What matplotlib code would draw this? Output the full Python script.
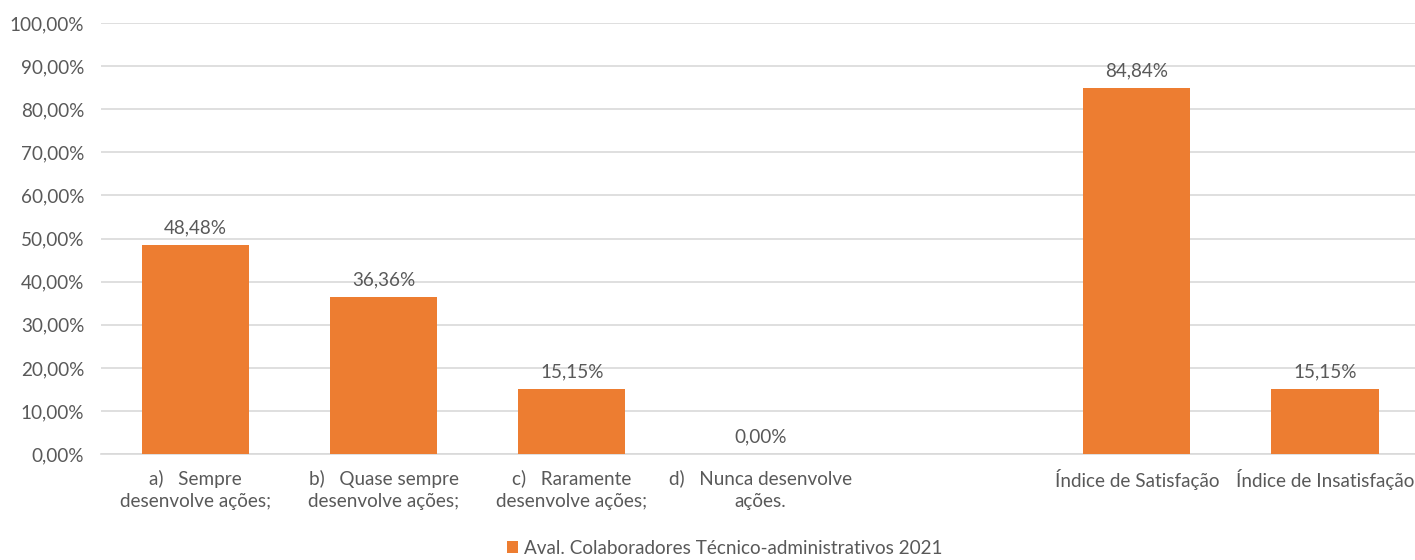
import matplotlib.pyplot as plt
import numpy as np
from matplotlib.ticker import FuncFormatter

plt.rcParams['font.family'] = ['Lato', 'DejaVu Sans']

categories = ['a)   Sempre\ndesenvolve ações;', 'b)   Quase sempre\ndesenvolve ações;',
              'c)   Raramente\ndesenvolve ações;', 'd)   Nunca desenvolve\nações.', '',
              'Índice de Satisfação', 'Índice de Insatisfação']
values = [48.48, 36.36, 15.15, 0.0, None, 84.84, 15.15]
series_name = 'Aval. Colaboradores Técnico-administrativos 2021'

orange = '#ED7D31'
grey = '#595959'
fs = 13.6

fig = plt.figure(figsize=(14.15, 5.6), dpi=100)
ax = fig.add_axes([0.0714, 0.189, 0.9316, 0.77])

x = np.arange(len(categories))
vals = [np.nan if v is None else v for v in values]
bars = ax.bar(x, vals, width=0.57, color=orange, label=series_name, zorder=3)

for xi, v in zip(x, values):
    if v is None:
        continue
    ax.text(xi, v + 2.0, f'{v:.2f}%'.replace('.', ','), ha='center', va='bottom',
            fontsize=fs, color=grey)

ax.set_xlim(-0.5, len(categories) - 0.5)
ax.set_ylim(0, 100)
ax.set_yticks(np.arange(0, 101, 10))
ax.yaxis.set_major_formatter(FuncFormatter(lambda v, p: f'{v:.2f}%'.replace('.', ',')))
ax.set_xticks(x)
ax.set_xticklabels(categories, fontsize=fs, color=grey, linespacing=1.4)
ax.tick_params(axis='y', labelsize=fs, labelcolor=grey, length=0, pad=12)
ax.tick_params(axis='x', length=0, pad=11)
ax.grid(axis='y', color='#D9D9D9', linewidth=1.2, zorder=0)
for s in ['top', 'right', 'left']:
    ax.spines[s].set_visible(False)
ax.spines['bottom'].set_color('#D9D9D9')
ax.spines['bottom'].set_linewidth(1.2)

fig.legend(handles=[bars], labels=[series_name], loc='lower center',
           bbox_to_anchor=(0.512, -0.025), frameon=False, fontsize=fs,
           labelcolor=grey, handlelength=0.6, handleheight=0.6, handletextpad=0.3)

fig.savefig('out.png', dpi=100)
